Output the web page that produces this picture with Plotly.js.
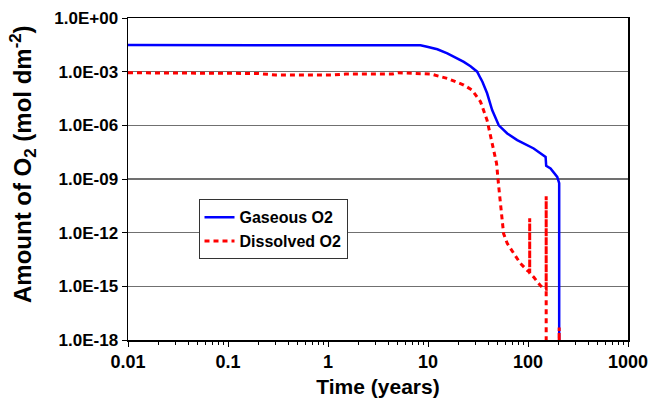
<!DOCTYPE html>
<html>
<head>
<meta charset="utf-8">
<script src="https://cdn.plot.ly/plotly-3.0.1.min.js"></script>
<style>
  html, body { margin: 0; padding: 0; background: #fff; }
  #chart { width: 649px; height: 404px; }
</style>
</head>
<body>
<div id="chart"></div>
<script>
// Time (years)
const gasTime = [0.01, 1, 7.8, 8.4, 9.8, 12.4, 15.6, 22.8, 26.6, 31, 33.5, 35, 39, 43.8, 51, 62, 78, 114, 150, 152, 168, 196, 205, 205];
// Gaseous O2 amount (mol dm-2)
const gasAmount = [0.031, 0.031, 0.031, 0.0295, 0.0245, 0.0178, 0.0105, 3.5e-3, 2.0e-3, 1.0e-3, 4.3e-4, 2.75e-4, 6.2e-5, 7.1e-6, 1.0e-6, 3.5e-7, 1.5e-7, 5.1e-8, 1.7e-8, 5.5e-9, 3.9e-9, 1.3e-9, 5.9e-10, 1e-21];

const disTime = [0.01, 0.05, 0.1, 0.2, 0.3, 1.1, 1.5, 4.4, 5, 10.6, 15.6, 22.8, 27.6, 33.5, 39, 43.8, 48.5, 51, 53.8, 57, 62, 72, 84, 98, 104, 104, 104, 114, 133, 144, 150, 152, 152, 152, 204, 205, 206];
// Dissolved O2 amount (mol dm-2)
const disAmount = [8.7e-4, 8.7e-4, 7.9e-4, 7.9e-4, 6.5e-4, 6.5e-4, 7.4e-4, 7.4e-4, 8.7e-4, 7.4e-4, 4.2e-4, 1.8e-4, 9.3e-5, 2.1e-5, 1.9e-6, 9.8e-8, 7.4e-9, 3.6e-10, 1.8e-11, 8.9e-13, 2.5e-13, 6.8e-14, 1.9e-14, 7.9e-15, 6.0e-15, 6.3e-12, 5.4e-15, 3.3e-15, 1.1e-15, 7.4e-16, 7.1e-16, 7.0e-16, 1.1e-10, 1e-21, 1e-21, 5e-18, 1e-21];

const yTickVals = [1, 1e-3, 1e-6, 1e-9, 1e-12, 1e-15, 1e-18];
const yTickText = ["1.0E+00", "1.0E-03", "1.0E-06", "1.0E-09", "1.0E-12", "1.0E-15", "1.0E-18"];
const xTickVals = [0.01, 0.1, 1, 10, 100, 1000];
const xTickText = ["0.01", "0.1", "1", "10", "100", "1000"];

const FONT = "Liberation Sans, Arial, sans-serif";

const traces = [
  {
    x: gasTime, y: gasAmount, name: "Gaseous O2", type: "scatter", mode: "lines",
    line: { color: "#0000FF", width: 2.5 }
  },
  {
    x: disTime, y: disAmount, name: "Dissolved O2", type: "scatter", mode: "lines",
    line: { color: "#FF0000", width: 3, dash: "5px,4px" }
  }
];

const layout = {
  width: 649, height: 404,
  margin: { l: 127.5, r: 20.7, t: 18, b: 64 },
  paper_bgcolor: "#fff", plot_bgcolor: "#fff",
  font: { family: FONT, color: "#000", weight: "bold" },
  showlegend: true,
  legend: {
    x: 0.141, y: 0.437, xanchor: "left", yanchor: "top",
    bgcolor: "#fff", bordercolor: "#333", borderwidth: 1,
    font: { family: FONT, size: 16, weight: "bold", color: "#000" },
    tracegroupgap: 0
  },
  xaxis: {
    type: "log", range: [-2, 3],
    tickvals: xTickVals, ticktext: xTickText,
    ticks: "outside", ticklen: 5, tickwidth: 1, tickcolor: "#000",
    minor: { ticks: "outside", ticklen: 3, tickwidth: 1, tickcolor: "#000", dtick: "D1", showgrid: false },
    showline: true, linecolor: "#000", linewidth: 1.5, mirror: true,
    showgrid: false, zeroline: false,
    tickfont: { family: FONT, size: 18, weight: "bold" },
    title: { text: "Time (years)", font: { family: FONT, size: 21, weight: "bold" }, standoff: 8 }
  },
  yaxis: {
    type: "log", range: [-18, 0],
    tickvals: yTickVals, ticktext: yTickText,
    ticks: "outside", ticklen: 5, tickwidth: 1, tickcolor: "#000",
    showline: true, linecolor: "#000", linewidth: 1.5, mirror: true,
    showgrid: true, gridcolor: "#707070", gridwidth: 1.5, zeroline: false,
    tickfont: { family: FONT, size: 17, weight: "bold" }
  },
  annotations: [
    {
      text: "Amount of O<sub>2</sub> (mol dm<sup>-2</sup>)",
      textangle: -90, showarrow: false,
      xref: "paper", yref: "paper",
      x: -0.211, y: 0.545, xanchor: "center", yanchor: "middle",
      font: { family: FONT, size: 24, weight: "bold", color: "#000" }
    }
  ]
};

Plotly.newPlot("chart", traces, layout, { staticPlot: true, displayModeBar: false });
</script>
</body>
</html>
